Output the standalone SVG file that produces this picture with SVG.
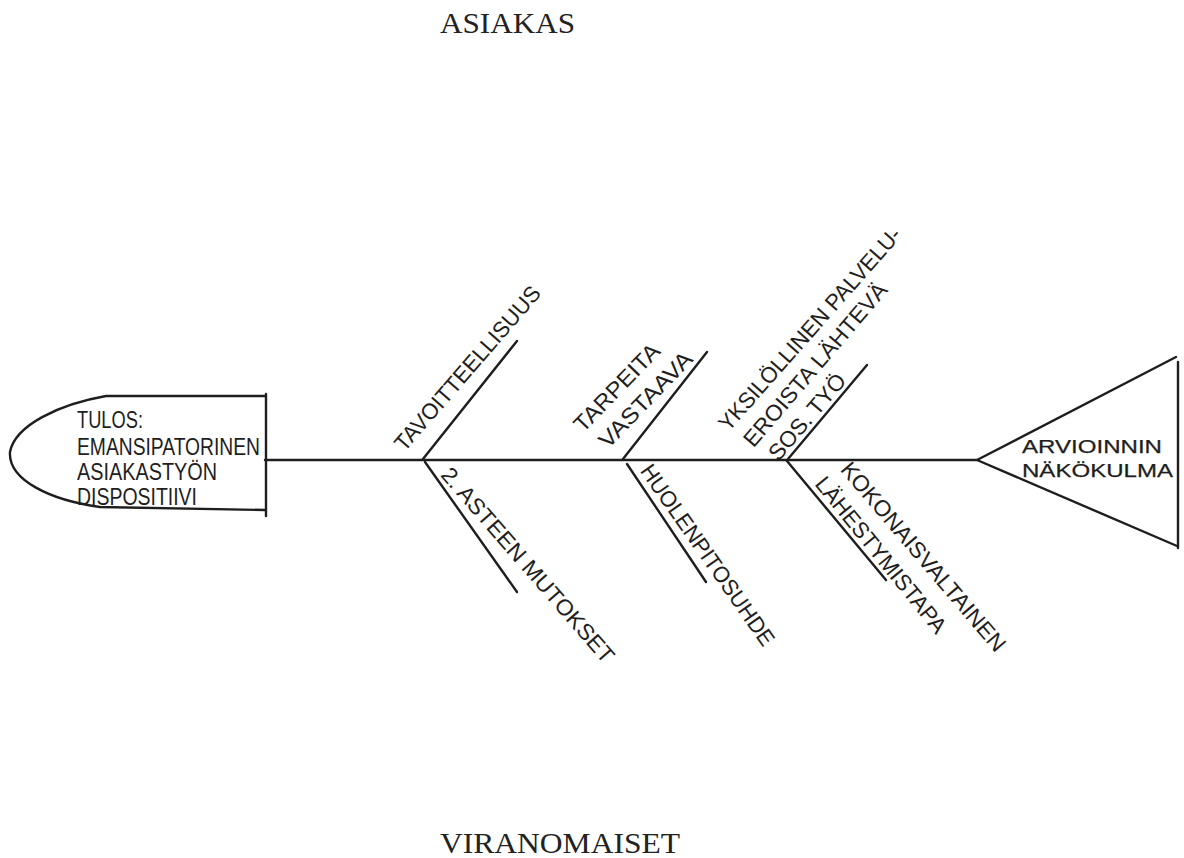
<svg xmlns="http://www.w3.org/2000/svg" width="1184" height="858" viewBox="0 0 1184 858">
<style>
.ln{stroke:#1e1e1e;stroke-width:2.4;fill:none;stroke-linecap:round;stroke-linejoin:round}
.t{font-family:"Liberation Sans",Arial,sans-serif;fill:#1e1e1e}
.s{font-size:22.5px}
.h{font-size:24px}
.b{font-size:18.5px;stroke:#1e1e1e;stroke-width:0.25}
.tt{font-family:"Liberation Serif","Times New Roman",serif;font-size:30px;fill:#222}
</style>
<rect width="1184" height="858" fill="#fff"/>
<g id="label-asiakas"><text class="tt" x="440" y="33" textLength="135" lengthAdjust="spacingAndGlyphs">ASIAKAS</text></g>
<g id="label-viranomaiset"><text class="tt" x="440" y="853" textLength="240" lengthAdjust="spacingAndGlyphs">VIRANOMAISET</text></g>
<g id="head-tulos">
<path class="ln" d="M265,396 L106,396 C60,404 15,425 10,452 C8,480 50,500 100,507 L265,510"/>
<path class="ln" d="M266,394 L266,516"/>
<text class="t h" x="77" y="428" textLength="66" lengthAdjust="spacingAndGlyphs">TULOS:</text>
<text class="t h" x="77" y="455" textLength="183" lengthAdjust="spacingAndGlyphs">EMANSIPATORINEN</text>
<text class="t h" x="77" y="480" textLength="140" lengthAdjust="spacingAndGlyphs">ASIAKASTYÖN</text>
<text class="t h" x="77" y="505" textLength="120" lengthAdjust="spacingAndGlyphs">DISPOSITIIVI</text>
</g>
<g id="head-arvioinnin">
<path class="ln" d="M1176,357 L977,460 L1177,546"/>
<path class="ln" d="M1178,362 L1178,548"/>
<text class="t b" x="1022" y="453" textLength="140" lengthAdjust="spacingAndGlyphs">ARVIOINNIN</text>
<text class="t b" x="1022" y="477" textLength="151" lengthAdjust="spacingAndGlyphs">NÄKÖKULMA</text>
</g>
<g id="connectors">
<path class="ln" d="M265,460 L977,460"/>
<path class="ln" d="M423,459 L517,341"/>
<path class="ln" d="M623,459 L707,352"/>
<path class="ln" d="M788,459 L867,365"/>
<path class="ln" d="M425,462 L517,592"/>
<path class="ln" d="M627,464 L706,582"/>
<path class="ln" d="M787,461 L886,580"/>
</g>
<g id="cause-tavoitteellisuus"><text class="t s" transform="translate(404.4,452.5) rotate(-49)" textLength="210" lengthAdjust="spacingAndGlyphs">TAVOITTEELLISUUS</text></g>
<g id="cause-tarpeita">
<text class="t s" transform="translate(583,433.6) rotate(-46)" textLength="113" lengthAdjust="spacingAndGlyphs">TARPEITA</text>
<text class="t s" transform="translate(608,449.6) rotate(-46)" textLength="124" lengthAdjust="spacingAndGlyphs">VASTAAVA</text>
</g>
<g id="cause-yksilollinen">
<text class="t s" transform="translate(728.4,432.5) rotate(-48.5)" textLength="263" lengthAdjust="spacingAndGlyphs">YKSILÖLLINEN PALVELU-</text>
<text class="t s" transform="translate(753.4,448.5) rotate(-49.4)" textLength="208" lengthAdjust="spacingAndGlyphs">EROISTA LÄHTEVÄ</text>
<text class="t s" transform="translate(778.5,462) rotate(-49.4)" textLength="106" lengthAdjust="spacingAndGlyphs">SOS. TYÖ</text>
</g>
<g id="cause-asteen"><text class="t s" transform="translate(439.7,475.4) rotate(49)" textLength="251" lengthAdjust="spacingAndGlyphs">2. ASTEEN MUTOKSET</text></g>
<g id="cause-huolenpito"><text class="t s" transform="translate(639.4,470.9) rotate(55)" textLength="216" lengthAdjust="spacingAndGlyphs">HUOLENPITOSUHDE</text></g>
<g id="cause-kokonaisvaltainen">
<text class="t s" transform="translate(839.4,469.9) rotate(49.6)" textLength="241" lengthAdjust="spacingAndGlyphs">KOKONAISVALTAINEN</text>
<text class="t s" transform="translate(814,484.3) rotate(51)" textLength="194" lengthAdjust="spacingAndGlyphs">LÄHESTYMISTAPA</text>
</g>
</svg>
